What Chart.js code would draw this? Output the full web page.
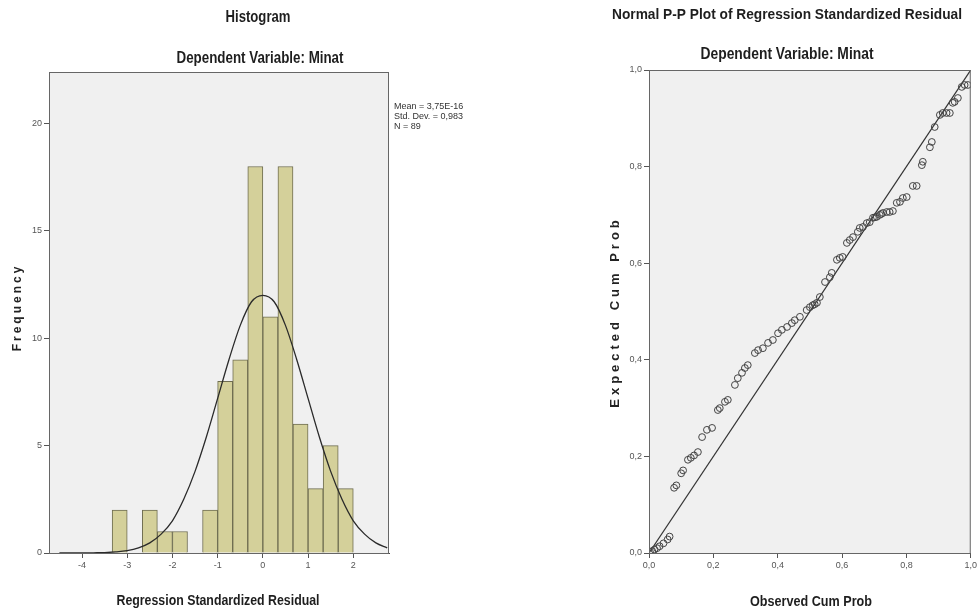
<!DOCTYPE html>
<html>
<head>
<meta charset="utf-8">
<script src="https://cdn.jsdelivr.net/npm/chart.js@4.4.0/dist/chart.umd.min.js"></script>
<style>
  body { margin: 0; background: #fff; width: 979px; height: 616px; position: relative; overflow: hidden; }
  #hist { position: absolute; left: 0; top: 0; }
  #pp { position: absolute; left: 600px; top: 0; }
</style>
</head>
<body>
<canvas id="hist" width="518" height="616"></canvas>
<canvas id="pp" width="379" height="616"></canvas>
<script>
// histogram bins (width 1/3) and counts, N = 89
var histCenters = [-3.1667, -2.8333, -2.5, -2.1667, -1.8333, -1.5, -1.1667, -0.8333, -0.5, -0.1667, 0.1667, 0.5, 0.8333, 1.1667, 1.5, 1.8333];
var histCounts  = [2, 0, 2, 1, 1, 0, 2, 8, 9, 18, 11, 18, 6, 3, 5, 3];
var histXTicks = [-4, -3, -2, -1, 0, 1, 2];
var histYTicks = [0, 5, 10, 15, 20];

// normal curve
var curveX = [-4.5, -4.25, -4, -3.75, -3.5, -3.25, -3, -2.75, -2.5, -2.25, -2, -1.75, -1.5, -1.25, -1, -0.75, -0.5, -0.25, 0, 0.25, 0.5, 0.75, 1, 1.25, 1.5, 1.75, 2, 2.25, 2.5, 2.75];
var curveY = [0, 0, 0, 0.01, 0.02, 0.05, 0.11, 0.24, 0.47, 0.88, 1.5, 2.5, 3.8, 5.4, 7.2, 9.0, 10.6, 11.7, 12.0, 11.7, 10.6, 9.0, 7.2, 5.4, 3.8, 2.5, 1.5, 0.88, 0.47, 0.24];

var statsLines = ['Mean = 3,75E-16', 'Std. Dev. = 0,983', 'N = 89'];

// P-P plot points
var ppObs = [0.003, 0.01, 0.017, 0.025, 0.033, 0.045, 0.058, 0.064, 0.078, 0.085, 0.1, 0.106, 0.121, 0.13, 0.14, 0.152,
  0.165, 0.18, 0.196, 0.214, 0.22, 0.236, 0.245, 0.267, 0.276, 0.289, 0.298, 0.307, 0.329, 0.339, 0.354, 0.37, 0.385,
  0.401, 0.413, 0.429, 0.444, 0.453, 0.469, 0.49, 0.5, 0.509, 0.515, 0.522, 0.531, 0.547, 0.562, 0.568, 0.584, 0.593, 0.602,
  0.615, 0.624, 0.634, 0.649, 0.655, 0.665, 0.677, 0.686, 0.696, 0.702, 0.708, 0.717, 0.722, 0.727, 0.739, 0.748, 0.758,
  0.77, 0.78, 0.789, 0.801, 0.82, 0.832, 0.848, 0.851, 0.873, 0.879, 0.888, 0.904, 0.913, 0.925, 0.935, 0.944, 0.95, 0.96,
  0.972, 0.981, 0.991];
var ppExp = [0.002, 0.004, 0.007, 0.01, 0.014, 0.02, 0.028, 0.034, 0.135, 0.14, 0.165, 0.171, 0.193, 0.197, 0.202, 0.209,
  0.24, 0.255, 0.259, 0.296, 0.3, 0.313, 0.317, 0.348, 0.362, 0.373, 0.383, 0.389, 0.414, 0.42, 0.424, 0.435, 0.441,
  0.455, 0.462, 0.468, 0.476, 0.482, 0.489, 0.503, 0.509, 0.513, 0.515, 0.518, 0.53, 0.561, 0.571, 0.58, 0.607, 0.611, 0.613,
  0.642, 0.648, 0.654, 0.665, 0.673, 0.675, 0.683, 0.685, 0.694, 0.695, 0.696, 0.7, 0.702, 0.704, 0.706, 0.706, 0.708,
  0.725, 0.727, 0.735, 0.737, 0.76, 0.76, 0.803, 0.81, 0.84, 0.851, 0.882, 0.907, 0.911, 0.911, 0.911, 0.932, 0.934, 0.942,
  0.965, 0.969, 0.969];
var diagX = [0, 1];
var diagY = [0, 1];
var ppTicks = [0, 0.2, 0.4, 0.6, 0.8, 1.0];

var SANS = "'Liberation Sans', Arial, sans-serif";

// grey plot background + frame
var plotFrame = {
  id: 'plotFrame',
  beforeDraw: function(chart) {
    var a = chart.chartArea, ctx = chart.ctx;
    ctx.save();
    ctx.fillStyle = '#f0f0f0';
    ctx.fillRect(a.left, a.top, a.right - a.left, a.bottom - a.top);
    ctx.restore();
  },
  afterDatasetsDraw: function(chart) {
    var a = chart.chartArea, ctx = chart.ctx;
    ctx.save();
    ctx.strokeStyle = '#666';
    ctx.lineWidth = 1;
    ctx.strokeRect(a.left + 0.5, a.top + 0.5, a.right - a.left - 1, a.bottom - a.top);
    ctx.restore();
  }
};

// condensed bold labels (titles, x axis title): squeeze Liberation Sans to the narrow look
function narrowTexts(items) {
  return {
    id: 'narrowTexts',
    afterDraw: function(chart) {
      var ctx = chart.ctx;
      items.forEach(function(t) {
        ctx.save();
        ctx.font = 'bold ' + t.size + 'px ' + SANS;
        var w = ctx.measureText(t.text).width;
        ctx.translate(t.x, t.y);
        ctx.scale(t.w / w, 1);
        ctx.fillStyle = '#1e1e1e';
        ctx.textAlign = 'center';
        ctx.textBaseline = 'middle';
        ctx.fillText(t.text, 0, 0);
        ctx.restore();
      });
    }
  };
}

// rotated, letter-spaced y axis title
function yTitle(text, x, y, size, spacing) {
  return {
    id: 'yTitle',
    afterDraw: function(chart) {
      var ctx = chart.ctx;
      ctx.save();
      ctx.translate(x, y);
      ctx.rotate(-Math.PI / 2);
      ctx.font = 'bold ' + size + 'px ' + SANS;
      ctx.letterSpacing = spacing + 'px';
      ctx.fillStyle = '#222';
      ctx.textAlign = 'center';
      ctx.textBaseline = 'middle';
      ctx.fillText(text, spacing / 2, 0);
      ctx.restore();
    }
  };
}

var statsText = {
  id: 'statsText',
  afterDraw: function(chart) {
    var ctx = chart.ctx;
    ctx.save();
    ctx.font = '9px ' + SANS;
    ctx.fillStyle = '#333';
    ctx.textBaseline = 'middle';
    statsLines.forEach(function(s, i) { ctx.fillText(s, 394, 107 + i * 10); });
    ctx.restore();
  }
};

function axis(min, max, ticks, fmt, isX) {
  return {
    type: 'linear', min: min, max: max, offset: false,
    afterBuildTicks: function(sc) { sc.ticks = ticks.map(function(v) { return { value: v }; }); },
    afterFit: function(sc) { if (isX) sc.height = 63; else sc.width = 49; },
    ticks: { font: { family: SANS, size: 9 }, color: '#555', padding: 2, callback: fmt, maxRotation: 0, autoSkip: false },
    grid: { drawOnChartArea: false, tickLength: 5, color: '#555', offset: false },
    border: { color: '#444', width: 1 }
  };
}

function intFmt(v) { return String(v); }
function commaFmt(v) { return v.toFixed(1).replace('.', ','); }

new Chart(document.getElementById('hist'), {
  type: 'bar',
  data: {
    datasets: [{
      type: 'line',
      data: curveX.map(function(x, i) { return { x: x, y: curveY[i] }; }),
      borderColor: '#2a2a2a', borderWidth: 1.3, pointRadius: 0,
      cubicInterpolationMode: 'monotone', order: 0
    }, {
      type: 'bar',
      data: histCenters.map(function(c, i) { return { x: c, y: histCounts[i] }; }),
      backgroundColor: '#d4d09a', borderColor: '#6e6c50', borderWidth: 1,
      barPercentage: 1, categoryPercentage: 1, order: 1
    }]
  },
  options: {
    responsive: false, animation: false,
    layout: { padding: { left: 0, right: 129, top: 72, bottom: 0 } },
    plugins: { legend: { display: false }, tooltip: { enabled: false } },
    scales: {
      x: axis(-4.73, 2.79, histXTicks, intFmt, true),
      y: axis(0, 22.4, histYTicks, intFmt, false)
    }
  },
  plugins: [plotFrame, yTitle('Frequency', 18, 309, 12, 3), statsText, narrowTexts([
    { text: 'Histogram', x: 258, y: 18, size: 16, w: 65 },
    { text: 'Dependent Variable: Minat', x: 260, y: 59, size: 16, w: 167 },
    { text: 'Regression Standardized Residual', x: 218, y: 601, size: 15, w: 203 }
  ])]
});

new Chart(document.getElementById('pp'), {
  type: 'scatter',
  data: {
    datasets: [{
      type: 'line',
      data: diagX.map(function(x, i) { return { x: x, y: diagY[i] }; }),
      borderColor: '#333', borderWidth: 1.2, pointRadius: 0, order: 1
    }, {
      data: ppObs.map(function(x, i) { return { x: x, y: ppExp[i] }; }),
      pointStyle: 'circle', pointRadius: 3.4, pointBorderWidth: 1,
      backgroundColor: 'rgba(0,0,0,0)', borderColor: '#444', order: 0
    }]
  },
  options: {
    responsive: false, animation: false,
    layout: { padding: { left: 0, right: 8, top: 70, bottom: 0 } },
    plugins: { legend: { display: false }, tooltip: { enabled: false } },
    scales: {
      x: axis(0, 1, ppTicks, commaFmt, true),
      y: axis(0, 1, ppTicks, commaFmt, false)
    }
  },
  plugins: [plotFrame, yTitle('Expected Cum Prob', 15, 314, 13, 4), narrowTexts([
    { text: 'Normal P-P Plot of Regression Standardized Residual', x: 187, y: 15, size: 15, w: 350 },
    { text: 'Dependent Variable: Minat', x: 187, y: 55, size: 16, w: 173 },
    { text: 'Observed Cum Prob', x: 211, y: 602, size: 15, w: 122 }
  ])]
});
</script>
</body>
</html>
